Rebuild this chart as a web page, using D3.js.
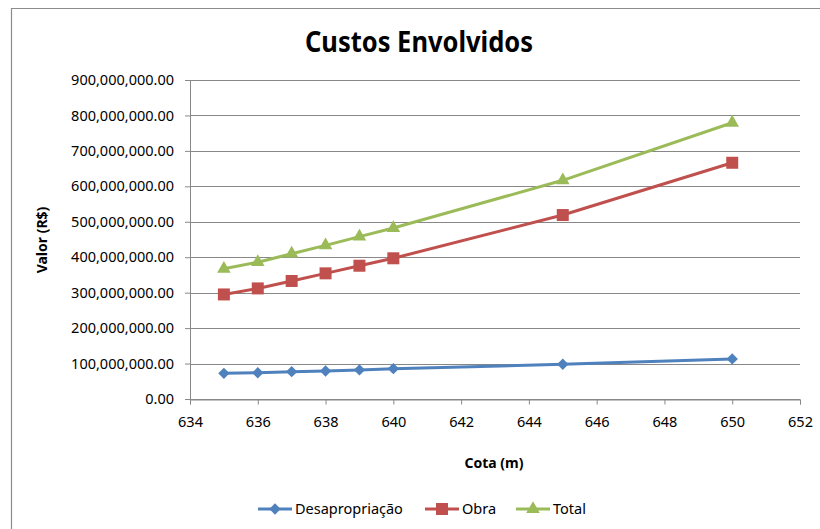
<!DOCTYPE html>
<html>
<head>
<meta charset="utf-8">
<script src="https://cdn.jsdelivr.net/npm/d3@7"></script>
<style>
  body { margin: 0; background: #fff; }
  text { font-family: "Noto Sans", "Open Sans", sans-serif; fill: #000; }
</style>
</head>
<body>
<svg id="chart" width="820" height="529"></svg>
<script>
// Elevation (m) and the cost series in R$
const cotas = [635, 636, 637, 638, 639, 640, 645, 650];
const desapropriacao = [72.5e6, 74e6, 77e6, 79e6, 82e6, 85.5e6, 98e6, 113e6];
const obra = [295e6, 312e6, 333e6, 354.5e6, 376e6, 397e6, 519e6, 666.5e6];
const total = [367.5e6, 386e6, 410e6, 433.5e6, 458e6, 482.5e6, 617e6, 779.5e6];

const xTicks = [634, 636, 638, 640, 642, 644, 646, 648, 650, 652];
const yTicks = [0, 100e6, 200e6, 300e6, 400e6, 500e6, 600e6, 700e6, 800e6, 900e6];

const seriesNames = ["Desapropriação", "Obra", "Total"];
const seriesValues = [desapropriacao, obra, total];
const seriesColors = ["#4F81BD", "#C0504D", "#9BBB59"];

const svg = d3.select("#chart");

// outer chart frame
svg.append("path")
  .attr("d", "M11.5,529 L11.5,8.5 L820,8.5")
  .attr("fill", "none")
  .attr("stroke", "#8c8c8c")
  .attr("stroke-width", 1.2);

const x = d3.scaleLinear().domain([634, 652]).range([190, 800]);
const y = d3.scaleLinear().domain([0, 900e6]).range([399, 80]);

// horizontal gridlines
svg.append("g").selectAll("line")
  .data(yTicks)
  .join("line")
  .attr("x1", x(634)).attr("x2", x(652))
  .attr("y1", d => Math.round(y(d)) + 0.5)
  .attr("y2", d => Math.round(y(d)) + 0.5)
  .attr("stroke", "#888")
  .attr("stroke-width", 1);

// y axis
const yAxis = svg.append("g")
  .attr("transform", `translate(${x(634)},0)`)
  .call(d3.axisLeft(y).tickValues(yTicks).tickSize(5).tickPadding(11)
    .tickFormat(d3.format(",.2f")));
yAxis.selectAll("line, path").attr("stroke", "#888");
yAxis.select(".domain").attr("d", `M0.5,${y(0)}V${y(900e6)}`);
yAxis.selectAll("text")
  .style("font-family", '"Noto Sans", sans-serif')
  .style("font-size", "14.5px")
  .attr("fill", "#000");

// x axis
const xAxis = svg.append("g")
  .attr("transform", `translate(0,${Math.round(y(0)) + 0.5})`)
  .call(d3.axisBottom(x).tickValues(xTicks).tickSize(5).tickPadding(12)
    .tickFormat(d3.format("d")));
xAxis.selectAll("line, path").attr("stroke", "#888");
xAxis.selectAll("text")
  .style("font-family", '"Noto Sans", sans-serif')
  .style("font-size", "14.5px")
  .attr("fill", "#000");

// marker shapes per series
const markerPath = [
  d3.symbol().type(d3.symbolSquare).size(64)(),   // rotated into a diamond
  d3.symbol().type(d3.symbolSquare).size(144)(),
  d3.symbol().type(d3.symbolTriangle).size(80)()
];
const markerRotate = [45, 0, 0];

const line = d3.line().x(d => x(d[0])).y(d => y(d[1]));

seriesValues.forEach((vals, i) => {
  const pts = cotas.map((c, j) => [c, vals[j]]);
  const g = svg.append("g");
  g.append("path")
    .datum(pts)
    .attr("d", line)
    .attr("fill", "none")
    .attr("stroke", seriesColors[i])
    .attr("stroke-width", 3)
    .attr("stroke-linejoin", "round");
  g.selectAll("path.marker")
    .data(pts)
    .join("path")
    .attr("class", "marker")
    .attr("d", markerPath[i])
    .attr("transform", d => `translate(${x(d[0])},${y(d[1])}) rotate(${markerRotate[i]})`)
    .attr("fill", seriesColors[i]);
});

// title
svg.append("text")
  .attr("x", 419).attr("y", 52)
  .attr("text-anchor", "middle")
  .style("font-size", "29px")
  .style("font-weight", "bold")
  .attr("textLength", 228)
  .attr("lengthAdjust", "spacingAndGlyphs")
  .text("Custos Envolvidos");

// axis titles
svg.append("text")
  .attr("transform", "translate(47,240) rotate(-90)")
  .attr("text-anchor", "middle")
  .style("font-size", "14px")
  .style("font-weight", "bold")
  .text("Valor (R$)");

svg.append("text")
  .attr("x", 494).attr("y", 468)
  .attr("text-anchor", "middle")
  .style("font-size", "14px")
  .style("font-weight", "bold")
  .text("Cota (m)");

// legend
const legendX = [258, 425, 516];
const legendY = 509;
seriesNames.forEach((name, i) => {
  const g = svg.append("g").attr("transform", `translate(${legendX[i]},${legendY})`);
  g.append("line")
    .attr("x1", 0).attr("x2", 34)
    .attr("y1", 0).attr("y2", 0)
    .attr("stroke", seriesColors[i])
    .attr("stroke-width", 3);
  g.append("path")
    .attr("d", markerPath[i])
    .attr("transform", `translate(17,0) rotate(${markerRotate[i]})`)
    .attr("fill", seriesColors[i]);
  g.append("text")
    .attr("x", 37).attr("y", 5)
    .style("font-size", "14.5px")
    .text(name);
});
</script>
</body>
</html>
